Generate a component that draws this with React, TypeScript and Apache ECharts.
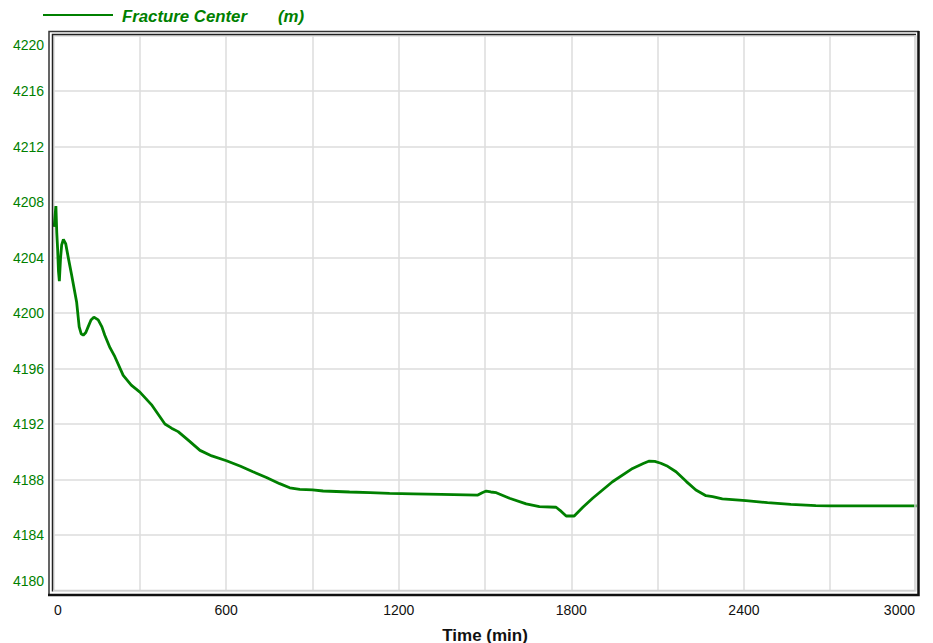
import React, { useEffect, useRef } from "react";
import * as echarts from "echarts";

const seriesName = "Fracture Center";
const unitLabel = "(m)";
const xAxisTitle = "Time (min)";

const timeMin = [
  2, 5, 8, 11, 14, 17, 20, 24, 28, 34, 42, 50, 63, 80, 89, 96, 103, 112, 120, 130,
  140, 155, 168, 178, 196, 213, 242, 270, 300, 340, 387, 410, 433, 470, 509, 550,
  601, 650, 693, 740, 786, 821, 856, 900, 937, 1029, 1100, 1168, 1250, 1348, 1475,
  1490, 1504, 1520, 1539, 1585, 1643, 1689, 1747, 1765, 1782, 1810, 1840, 1874,
  1943, 2013, 2050, 2071, 2090, 2111, 2135, 2164, 2200, 2233, 2268, 2291, 2325,
  2407, 2482, 2563, 2650, 2700, 3000,
];
const centerDepth = [
  4206.2, 4207.0, 4207.7, 4205.8, 4204.6, 4203.0, 4202.3, 4203.9, 4204.9, 4205.3,
  4205.0, 4204.1, 4202.7, 4200.8, 4199.0, 4198.5, 4198.4, 4198.6, 4199.0, 4199.5,
  4199.7, 4199.5, 4199.0, 4198.4, 4197.5, 4196.85, 4195.5, 4194.8, 4194.3, 4193.4,
  4192.0, 4191.7, 4191.45, 4190.8, 4190.1, 4189.7, 4189.35, 4188.95, 4188.56,
  4188.15, 4187.7, 4187.4, 4187.29, 4187.25, 4187.17, 4187.1, 4187.05, 4187.0,
  4186.97, 4186.93, 4186.88, 4187.05, 4187.17, 4187.1, 4187.05, 4186.65, 4186.24,
  4186.04, 4186.0, 4185.7, 4185.37, 4185.37, 4186.0, 4186.65, 4187.84, 4188.8,
  4189.15, 4189.33, 4189.3, 4189.17, 4188.95, 4188.56, 4187.85, 4187.24, 4186.83,
  4186.76, 4186.6, 4186.47, 4186.33, 4186.21, 4186.11, 4186.1, 4186.1,
];

const X_MIN = 0;
const X_MAX = 3000;
const X_GRID_STEP = 300;
const X_LABEL_STEP = 600;
const Y_MIN = 4180;
const Y_MAX = 4220;
const Y_STEP = 4;

const GREEN = "#008000";
const FONT = "'Liberation Sans', Arial, sans-serif";

export default function App() {
  const ref = useRef<HTMLDivElement>(null);

  useEffect(() => {
    if (!ref.current) return;
    const chart = echarts.init(ref.current, undefined, { renderer: "svg" });

    const data = timeMin.map((t, i) => [t, centerDepth[i]]);

    chart.setOption({
      animation: false,
      backgroundColor: "#ffffff",
      grid: {
        left: 53.6,
        right: 16.5,
        top: 35.5,
        bottom: 52.5,
        containLabel: false,
        outerBoundsMode: "none",
      },
      xAxis: {
        type: "value",
        min: X_MIN,
        max: X_MAX,
        interval: X_GRID_STEP,
        axisLine: { show: false },
        axisTick: { show: false },
        splitLine: { show: true, lineStyle: { color: "#dcdcdc", width: 1.5 } },
        axisLabel: {
          show: true,
          showMinLabel: false,
          showMaxLabel: false,
          margin: 12,
          color: "#111",
          fontSize: 14,
          fontFamily: FONT,
          formatter: (v: number) => (v % X_LABEL_STEP === 0 ? String(v) : ""),
        },
        name: xAxisTitle,
        nameLocation: "middle",
        nameGap: 36,
        nameTextStyle: {
          color: "#111",
          fontSize: 17,
          fontWeight: "bold",
          fontFamily: FONT,
        },
      },
      yAxis: {
        type: "value",
        min: Y_MIN,
        max: Y_MAX,
        interval: Y_STEP,
        axisLine: { show: false },
        axisTick: { show: false },
        splitLine: { show: true, lineStyle: { color: "#dcdcdc", width: 1.5 } },
        axisLabel: {
          show: true,
          showMinLabel: false,
          showMaxLabel: false,
          margin: 9.5,
          color: GREEN,
          fontSize: 14,
          fontFamily: FONT,
          formatter: (v: number) => String(v),
        },
      },
      series: [
        {
          type: "line",
          name: seriesName,
          data,
          showSymbol: false,
          symbol: "none",
          lineStyle: { color: GREEN, width: 2.8 },
          z: 3,
        },
      ],
    });

    const p = (x: number, y: number) =>
      chart.convertToPixel({ gridIndex: 0 }, [x, y]) as number[];
    const [x0, yBottom] = p(X_MIN, Y_MIN);
    const [x1, yTop] = p(X_MAX, Y_MAX);

    const labelStyle = (text: string, color: string) => ({
      text,
      fill: color,
      fontSize: 14,
      fontFamily: FONT,
    });

    const legendText = (text: string, x: number) => ({
      type: "text",
      x,
      y: 16,
      style: {
        text,
        fill: GREEN,
        fontSize: 16.8,
        fontWeight: "bold",
        fontStyle: "italic",
        fontFamily: FONT,
        verticalAlign: "middle",
        align: "left",
      },
    });

    chart.setOption({
      graphic: [
        {
          type: "polyline",
          shape: { points: [[49, 595], [49, 31.5], [919, 31.5]] },
          style: { stroke: "#333", lineWidth: 1.5, fill: null },
          z: 10,
        },
        {
          type: "polyline",
          shape: { points: [[48, 595], [918.5, 595], [918.5, 31]] },
          style: { stroke: "#111", lineWidth: 2.5, fill: null },
          z: 10,
        },
        {
          type: "polyline",
          shape: { points: [[52.5, 591.5], [52.5, 34.5], [916, 34.5]] },
          style: { stroke: "#222", lineWidth: 1.5, fill: null },
          z: 10,
        },
        {
          type: "polyline",
          shape: { points: [[53, 590.5], [915, 590.5], [915, 35]] },
          style: { stroke: "#d0d0d0", lineWidth: 1.5, fill: null },
          z: 10,
        },
        {
          type: "line",
          shape: { x1: 43, y1: 15, x2: 113, y2: 15 },
          style: { stroke: GREEN, lineWidth: 2 },
        },
        legendText(seriesName, 122),
        legendText(unitLabel, 278),
        {
          type: "text",
          x: x0 - 9.5,
          y: yTop + 9.5,
          style: { ...labelStyle(String(Y_MAX), GREEN), align: "right", verticalAlign: "middle" },
        },
        {
          type: "text",
          x: x0 - 9.5,
          y: yBottom - 9.5,
          style: { ...labelStyle(String(Y_MIN), GREEN), align: "right", verticalAlign: "middle" },
        },
        {
          type: "text",
          x: x0 + 0.5,
          y: yBottom + 19,
          style: { ...labelStyle(String(X_MIN), "#111"), align: "left", verticalAlign: "middle" },
        },
        {
          type: "text",
          x: x1 - 1.5,
          y: yBottom + 19,
          style: { ...labelStyle(String(X_MAX), "#111"), align: "right", verticalAlign: "middle" },
        },
      ],
    });

    return () => chart.dispose();
  }, []);

  return (
    <div
      ref={ref}
      style={{ position: "fixed", left: 0, top: 0, width: 933, height: 643 }}
    />
  );
}
